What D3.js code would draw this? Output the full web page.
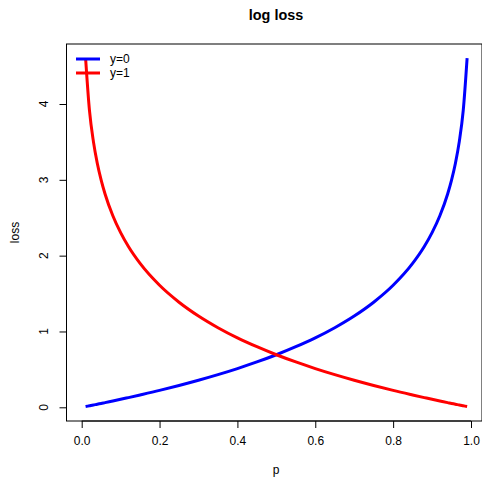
<!DOCTYPE html>
<html>
<head>
<meta charset="utf-8">
<script src="https://cdn.jsdelivr.net/npm/d3@7"></script>
<style>
  body { margin: 0; background: white; }
  text { font-family: "Liberation Sans", Arial, sans-serif; fill: black; }
</style>
</head>
<body>
<div id="chart"></div>
<script>
'use strict';

// probability grid and losses
var pValues = [0.01, 0.02, 0.03, 0.04, 0.05, 0.06, 0.08, 0.10, 0.12, 0.15, 0.20, 0.25, 0.30, 0.35, 0.40, 0.45, 0.50,
	0.55, 0.60, 0.65, 0.70, 0.75, 0.80, 0.85, 0.88, 0.90, 0.92, 0.94, 0.95, 0.96, 0.97, 0.98, 0.99];
var lossY0 = [0.010, 0.020, 0.030, 0.041, 0.051, 0.062, 0.083, 0.105, 0.128, 0.163, 0.223, 0.288, 0.357, 0.431,
	0.511, 0.598, 0.693, 0.799, 0.916, 1.050, 1.204, 1.386, 1.609, 1.897, 2.120, 2.303, 2.526, 2.813, 2.996,
	3.219, 3.507, 3.912, 4.605];
var lossY1 = [4.605, 3.912, 3.507, 3.219, 2.996, 2.813, 2.526, 2.303, 2.120, 1.897, 1.609, 1.386, 1.204, 1.050,
	0.916, 0.799, 0.693, 0.598, 0.511, 0.431, 0.357, 0.288, 0.223, 0.163, 0.128, 0.105, 0.083, 0.062, 0.051,
	0.041, 0.030, 0.020, 0.010];
var xTicks = [0, 0.2, 0.4, 0.6, 0.8, 1.0];
var yTicks = [0, 1, 2, 3, 4];
var legendLabels = ['y=0', 'y=1'];
var seriesColors = ['blue', 'red'];

var width = 482, height = 477;
var box = {left: 66.5, right: 482, top: 44, bottom: 421};
var font = '"Liberation Sans", Arial, sans-serif';

var svg = d3.select('#chart').append('svg')
	.attr('width', width)
	.attr('height', height);

var x = d3.scaleLinear().domain([0, 1]).range([81.7, 471]);
var y = d3.scaleLinear().domain([0, 4]).range([407.3, 104]);

// plot box
svg.append('rect')
	.attr('x', box.left).attr('y', box.top)
	.attr('width', box.right - box.left).attr('height', box.bottom - box.top)
	.attr('fill', 'none').attr('stroke', 'black').attr('stroke-width', 1);

// x axis
var xAxis = d3.axisBottom(x).tickValues(xTicks).tickFormat(d3.format('.1f')).tickSize(7).tickPadding(8);
var gx = svg.append('g').attr('transform', 'translate(0,' + box.bottom + ')').call(xAxis);
gx.selectAll('text').attr('font-size', 12).attr('font-family', font);
gx.select('.domain').attr('stroke', 'black').attr('d', 'M' + x(0) + ',0H' + x(1));
gx.selectAll('.tick line').attr('stroke', 'black');

// y axis: ticks from d3, labels turned like R's las=0
var yAxis = d3.axisLeft(y).tickValues(yTicks).tickFormat('').tickSize(7);
var gy = svg.append('g').attr('transform', 'translate(' + box.left + ',0)').call(yAxis);
gy.select('.domain').remove();
gy.selectAll('.tick line').attr('stroke', 'black');

svg.append('g').selectAll('text')
	.data(yTicks)
	.join('text')
		.attr('transform', function(d){ return 'translate(' + (box.left - 19) + ',' + y(d) + ') rotate(-90)'; })
		.attr('text-anchor', 'middle')
		.attr('font-size', 12)
		.text(d3.format('d'));

// curves
var line = d3.line()
	.x(function(d){ return x(d[0]); })
	.y(function(d){ return y(d[1]); })
	.curve(d3.curveMonotoneX);

[lossY0, lossY1].forEach(function(vals, i){
	svg.append('path')
		.datum(pValues.map(function(p, j){ return [p, vals[j]]; }))
		.attr('fill', 'none')
		.attr('stroke', seriesColors[i])
		.attr('stroke-width', 3)
		.attr('d', line);
});

// legend
var legend = svg.append('g');
legendLabels.forEach(function(lab, i){
	var ly = 59 + i * 14;
	legend.append('line')
		.attr('x1', 76).attr('x2', 100).attr('y1', ly).attr('y2', ly)
		.attr('stroke', seriesColors[i]).attr('stroke-width', 3);
	legend.append('text')
		.attr('x', 110).attr('y', ly + 4)
		.attr('font-size', 12)
		.text(lab);
});

// titles
svg.append('text')
	.attr('x', 276).attr('y', 20)
	.attr('text-anchor', 'middle')
	.attr('font-size', 14.4).attr('font-weight', 'bold')
	.text('log loss');

svg.append('text')
	.attr('x', 276).attr('y', 474)
	.attr('text-anchor', 'middle')
	.attr('font-size', 12)
	.text('p');

svg.append('text')
	.attr('transform', 'translate(19,' + ((box.top + box.bottom) / 2) + ') rotate(-90)')
	.attr('text-anchor', 'middle')
	.attr('font-size', 12)
	.text('loss');
</script>
</body>
</html>
